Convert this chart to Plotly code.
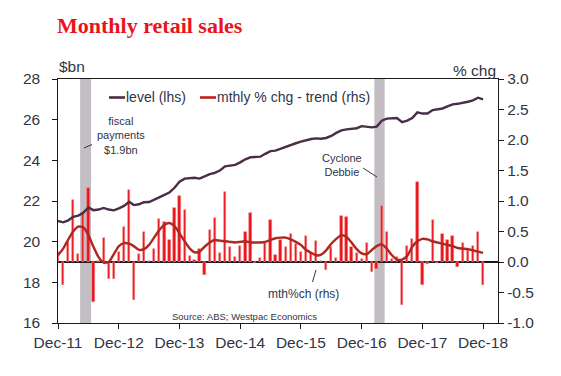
import plotly.graph_objects as go
import pandas as pd

# ---------------- data ----------------
months = pd.date_range("2011-12-01", "2018-12-01", freq="MS").strftime("%Y-%m-%d").tolist()

level_bn = [
    21.02, 20.95, 21.05, 21.22, 21.28, 21.42, 21.68, 21.55, 21.58, 21.66, 21.58, 21.54,
    21.64, 21.76, 21.96, 21.80, 21.84, 21.94, 21.95, 22.05, 22.18, 22.30, 22.42, 22.65,
    22.95, 23.10, 23.12, 23.14, 23.10, 23.22, 23.32, 23.38, 23.50, 23.70, 23.75, 23.78,
    23.90, 24.05, 24.15, 24.15, 24.18, 24.32, 24.45, 24.48, 24.58, 24.66, 24.75, 24.84,
    24.92, 25.00, 25.05, 25.08, 25.06, 25.10, 25.20, 25.35, 25.47, 25.52, 25.55, 25.58,
    25.68, 25.65, 25.62, 25.66, 25.95, 26.05, 26.07, 26.08, 25.88, 25.95, 26.08, 26.36,
    26.30, 26.30, 26.47, 26.50, 26.55, 26.65, 26.75, 26.78, 26.82, 26.88, 26.95, 27.08,
    27.00,
]

mthly_pct = [
    0.17, -0.37, 0.33, 1.02, 0.13, 0.80, 1.22, -0.66, 0.02, 0.40, -0.28, -0.28,
    0.17, 0.57, 1.18, -0.62, 0.13, 0.49, 0.02, 0.22, 0.70, 0.65, 0.36, 0.89,
    1.09, 0.85, 0.10, 0.04, 0.22, -0.22, 0.53, 0.72, 0.14, 1.14, 0.24, 0.09,
    0.26, 0.49, 0.80, -0.01, 0.07, 0.31, 0.69, 0.12, 0.36, 0.25, 0.46, 0.30,
    0.17, 0.42, 0.14, 0.34, 0.02, -0.13, 0.24, 0.07, 0.75, 0.73, 0.25, 0.14,
    0.05, 0.31, -0.17, -0.12, 0.91, 0.50, 0.05, 0.09, -0.70, 0.27, 0.38, 1.31,
    -0.38, -0.03, 0.69, -0.01, 0.46, 0.36, 0.42, -0.08, 0.31, 0.20, 0.26, 0.49,
    -0.38,
]

trend_pct = [
    0.11, 0.22, 0.37, 0.50, 0.58, 0.57, 0.44, 0.25, 0.08, -0.01, 0.00, 0.13,
    0.26, 0.31, 0.30, 0.26, 0.20, 0.21, 0.28, 0.40, 0.52, 0.61, 0.64, 0.59,
    0.47, 0.34, 0.22, 0.16, 0.17, 0.25, 0.32, 0.36, 0.35, 0.34, 0.33, 0.32,
    0.33, 0.34, 0.32, 0.32, 0.32, 0.33, 0.36, 0.39, 0.40, 0.40, 0.37, 0.33,
    0.28, 0.20, 0.15, 0.11, 0.12, 0.19, 0.30, 0.38, 0.44, 0.41, 0.32, 0.21,
    0.14, 0.13, 0.20, 0.26, 0.29, 0.22, 0.11, 0.04, 0.04, 0.10, 0.25, 0.34,
    0.38, 0.37, 0.34, 0.32, 0.30, 0.28, 0.26, 0.23, 0.22, 0.21, 0.19, 0.17,
    0.15,
]

tick_dates = ["2011-12-01", "2012-12-01", "2013-12-01", "2014-12-01",
              "2015-12-01", "2016-12-01", "2017-12-01", "2018-12-01"]
tick_labels = ["Dec-11", "Dec-12", "Dec-13", "Dec-14", "Dec-15", "Dec-16", "Dec-17", "Dec-18"]

shade_periods = [("2012-04-12", "2012-06-17"), ("2017-02-15", "2017-04-18")]

legend_names = ["level (lhs)", "mthly % chg - trend (rhs)"]

# ---------------- styling ----------------
W, H = 561, 376
ML, MR, MT, MB = 58, 63, 79, 53
PW, PH = W - ML - MR, H - MT - MB
TXT = "#303546"
AX = "#1a1a1a"
FONT = "Liberation Sans, Arial, sans-serif"
LEVEL_C = "#4A2D46"
TREND_C = "#AE2820"
BAR_C = "#E8141C"


def px_x(p):
    return (p - ML) / PW


def px_y(p):
    return (H - MB - p) / PH


fig = go.Figure()

fig.add_trace(go.Bar(
    x=months, y=mthly_pct, yaxis="y", name="mth%ch (rhs)",
    marker=dict(color=BAR_C, line=dict(color="rgba(245,140,140,0.9)", width=0.6)),
    width=14 * 86400000, showlegend=False,
))
fig.add_trace(go.Scatter(
    x=months, y=trend_pct, yaxis="y", mode="lines", name=legend_names[1],
    line=dict(color=TREND_C, width=2.4, shape="spline", smoothing=0.6),
    showlegend=False,
))
fig.add_trace(go.Scatter(
    x=months, y=level_bn, yaxis="y2", mode="lines", name=legend_names[0],
    line=dict(color=LEVEL_C, width=2.4),
    showlegend=False,
))

shapes = []
for a, b in shade_periods:
    shapes.append(dict(type="rect", xref="x", yref="paper", x0=a, x1=b, y0=0, y1=1,
                       fillcolor="#C3BEC3", line=dict(width=0), layer="below"))
# annotation leader lines
for (x0, y0, x1, y1) in [(84, 148, 92, 144.5), (363, 168, 377, 177), (316, 270, 312.5, 282)]:
    shapes.append(dict(type="line", xref="paper", yref="paper",
                       x0=px_x(x0), y0=px_y(y0), x1=px_x(x1), y1=px_y(y1),
                       line=dict(color=TXT, width=1)))
# legend key lines
for (x0, x1, col) in [(109, 125, LEVEL_C), (200, 216, "#C0201A")]:
    shapes.append(dict(type="line", xref="paper", yref="paper",
                       x0=px_x(x0), y0=px_y(97.5), x1=px_x(x1), y1=px_y(97.5),
                       line=dict(color=col, width=2.6)))

annotations = [
    dict(text="<b>Monthly retail sales</b>", x=px_x(55), y=px_y(25), xref="paper", yref="paper",
         xanchor="left", yanchor="middle", showarrow=False,
         font=dict(family="Liberation Serif, Times New Roman, serif", size=22, color="#E8141C")),
    dict(text="$bn", x=px_x(57), y=px_y(67), xref="paper", yref="paper",
         xanchor="left", yanchor="middle", showarrow=False, font=dict(size=15.5, color=TXT)),
    dict(text="% chg", x=px_x(498), y=px_y(70), xref="paper", yref="paper",
         xanchor="right", yanchor="middle", showarrow=False, font=dict(size=15.5, color=TXT)),
    dict(text=legend_names[0], x=px_x(124), y=px_y(97.5), xref="paper", yref="paper",
         xanchor="left", yanchor="middle", showarrow=False, font=dict(size=14, color=TXT)),
    dict(text=legend_names[1], x=px_x(215), y=px_y(97.5), xref="paper", yref="paper",
         xanchor="left", yanchor="middle", showarrow=False, font=dict(size=14, color=TXT)),
    dict(text="fiscal<br>payments<br>$1.9bn", x=px_x(121), y=px_y(135), xref="paper", yref="paper",
         xanchor="center", yanchor="middle", showarrow=False, font=dict(size=11, color=TXT)),
    dict(text="Cyclone<br>Debbie", x=px_x(342), y=px_y(165), xref="paper", yref="paper",
         xanchor="center", yanchor="middle", showarrow=False, font=dict(size=11, color=TXT)),
    dict(text="mth%ch (rhs)", x=px_x(303), y=px_y(294), xref="paper", yref="paper",
         xanchor="center", yanchor="middle", showarrow=False, font=dict(size=12, color=TXT)),
    dict(text="Source: ABS; Westpac Economics", x=px_x(244), y=px_y(316), xref="paper", yref="paper",
         xanchor="center", yanchor="middle", showarrow=False, font=dict(size=9.5, color=TXT)),
]

fig.update_layout(
    width=W, height=H,
    margin=dict(l=ML, r=MR, t=MT, b=MB, pad=0, autoexpand=False),
    paper_bgcolor="white", plot_bgcolor="white",
    font=dict(family=FONT, color=TXT, size=15.5),
    bargap=0,
    showlegend=False,
    xaxis=dict(
        range=["2011-12-01", "2019-03-01"], type="date", automargin=False,
        tickvals=tick_dates, ticktext=tick_labels,
        showline=True, linecolor=AX, linewidth=1.2, mirror=True,
        ticks="outside", ticklen=5, tickcolor=AX, showgrid=False, zeroline=False,
        tickfont=dict(size=15.5, color=TXT),
    ),
    yaxis=dict(
        side="right", range=[-1, 3], automargin=False,
        tickvals=[-1, -0.5, 0, 0.5, 1, 1.5, 2, 2.5, 3],
        ticktext=["-1.0", "-0.5", "0.0", "0.5", "1.0", "1.5", "2.0", "2.5", "3.0"],
        showline=True, linecolor=AX, linewidth=1.2,
        ticks="outside", ticklen=5, tickcolor=AX, showgrid=False,
        zeroline=True, zerolinecolor=AX, zerolinewidth=1.5,
        tickfont=dict(size=15.5, color=TXT),
    ),
    yaxis2=dict(
        side="left", overlaying="y", range=[16, 28], automargin=False,
        tickvals=[16, 18, 20, 22, 24, 26, 28],
        ticktext=["16\u00a0\u00a0", "18\u00a0\u00a0", "20\u00a0\u00a0", "22\u00a0\u00a0",
                  "24\u00a0\u00a0", "26\u00a0\u00a0", "28\u00a0\u00a0"],
        showline=True, linecolor=AX, linewidth=1.2,
        ticks="outside", ticklen=5, tickcolor=AX, showgrid=False, zeroline=False,
        tickfont=dict(size=15.5, color=TXT),
    ),
    shapes=shapes,
    annotations=annotations,
)

fig.write_html("out.html", config={"displayModeBar": False},
               post_script="document.body.style.margin='0';")
